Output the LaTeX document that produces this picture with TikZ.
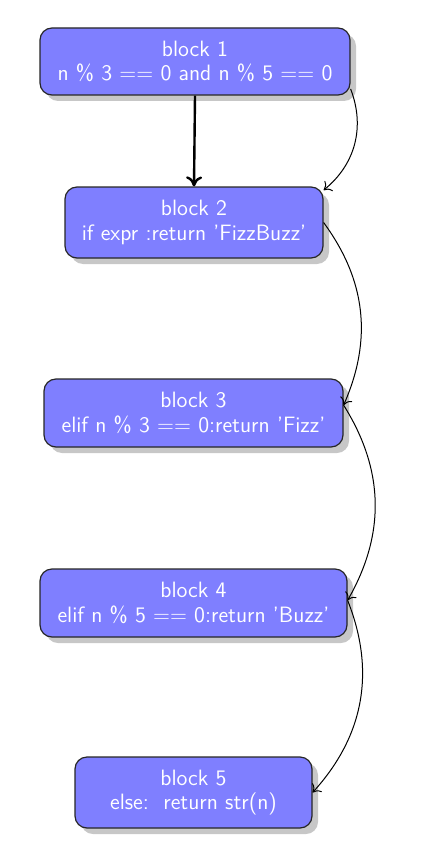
\documentclass[tikz,border=0pt]{standalone}
\usetikzlibrary{shadows,arrows.meta}
\definecolor{blockfill}{HTML}{7F7FFF}
\tikzset{
  blockbox/.style={draw=black!85, line width=0.6pt, fill=blockfill, rounded corners=6pt,
    text=white, align=center, inner sep=0pt,
    font=\sffamily\fontsize{11.1}{12.3}\selectfont,
    drop shadow={shadow xshift=3pt, shadow yshift=-3pt, fill=black!22, opacity=1}},
  mainarrow/.style={-{To[length=5pt,width=8pt]}, line width=1.2pt},
  sidearrow/.style={-{To[length=3.5pt,width=6.5pt]}, line width=0.5pt}
}
\begin{document}
\begin{tikzpicture}[x=0.5pt,y=-0.5pt]
\useasboundingbox (0,0) rectangle (437,856);
\node[blockbox, minimum width=155pt, minimum height=33.5pt] (b1) at (195,61.5) {block 1\\n \% 3 == 0 and n \% 5 == 0};
\node[blockbox, minimum width=129pt, minimum height=35.5pt] (b2) at (194,222.5) {block 2\\if expr :return 'FizzBuzz'};
\node[blockbox, minimum width=149.5pt, minimum height=34pt] (b3) at (193.5,413) {block 3\\elif n \% 3 == 0:return 'Fizz'};
\node[blockbox, minimum width=153.5pt, minimum height=34pt] (b4) at (193.5,603) {block 4\\elif n \% 5 == 0:return 'Buzz'};
\node[blockbox, minimum width=118.5pt, minimum height=35.5pt] (b5) at (193.5,792.5) {block 5\\else:\ \ return str(n)};
\draw[mainarrow] (b1.south) -- (b2.north);
\draw[sidearrow] (b1.-10) to[bend left=36] (b2.14);
\draw[sidearrow] (b2.east) to[bend left=30] (b3.3);
\draw[sidearrow] (b3.3) to[bend left=31] (b4.1);
\draw[sidearrow] (b4.1) to[bend left=32] (b5.east);
\end{tikzpicture}
\end{document}
